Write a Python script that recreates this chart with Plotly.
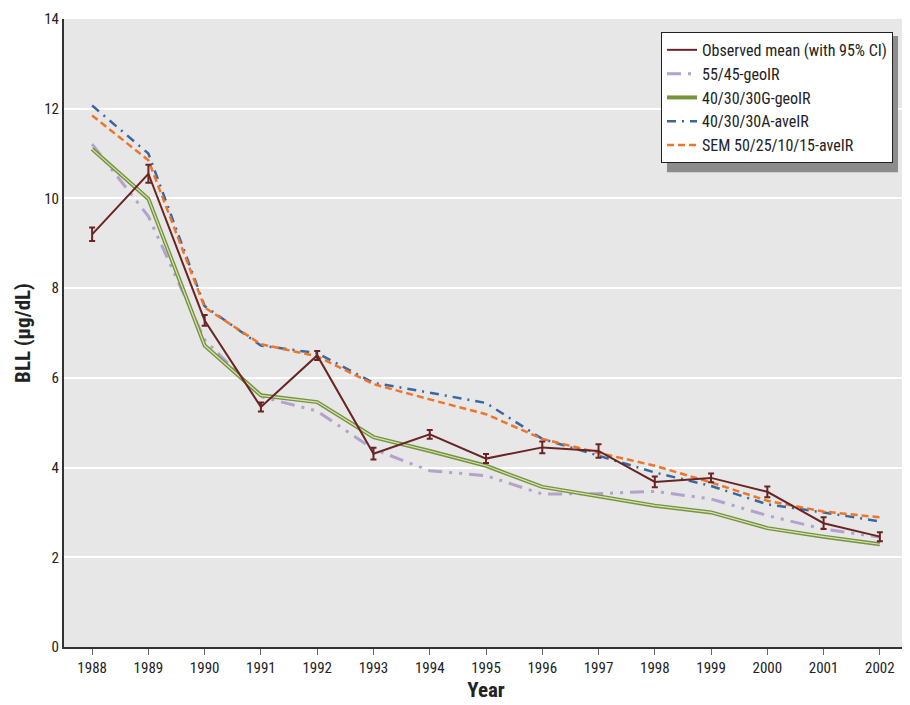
import plotly.graph_objects as go

years = list(range(1988, 2003))
observed = [9.2, 10.55, 7.28, 5.35, 6.5, 4.31, 4.74, 4.2, 4.45, 4.37, 3.68, 3.77, 3.46, 2.76, 2.46]
observed_ci = [0.15, 0.2, 0.12, 0.1, 0.1, 0.13, 0.1, 0.1, 0.13, 0.15, 0.12, 0.1, 0.12, 0.13, 0.1]
geo_55_45 = [11.21, 9.6, 6.85, 5.58, 5.26, 4.41, 3.93, 3.82, 3.41, 3.42, 3.47, 3.3, 2.93, 2.63, 2.45]
geo_40_30_30G = [11.1, 9.99, 6.72, 5.61, 5.46, 4.68, 4.37, 4.04, 3.57, 3.36, 3.15, 3.0, 2.65, 2.46, 2.29]
ave_40_30_30A = [12.07, 11.0, 7.6, 6.72, 6.55, 5.89, 5.67, 5.44, 4.64, 4.26, 3.89, 3.59, 3.18, 3.0, 2.8]
sem_50_25_10_15 = [11.85, 10.85, 7.57, 6.75, 6.48, 5.86, 5.52, 5.19, 4.64, 4.33, 4.04, 3.67, 3.26, 3.02, 2.89]

FONT = "Liberation Sans Narrow, Roboto Condensed, Arial Narrow, sans-serif"

fig = go.Figure()

fig.add_trace(go.Scatter(x=years, y=geo_55_45, mode="lines", name="55/45-geoIR",
                         line=dict(color="#b3a2cc", width=3, dash="14px,7px,3px,7px,3px,7px"),
                         legendrank=2))
fig.add_trace(go.Scatter(x=years, y=geo_40_30_30G, mode="lines", name="40/30/30G-geoIR",
                         line=dict(color="#77933c", width=4), legendrank=3))
fig.add_trace(go.Scatter(x=years, y=geo_40_30_30G, mode="lines", showlegend=False,
                         hoverinfo="skip", line=dict(color="#d6e3bc", width=1.2)))
fig.add_trace(go.Scatter(x=years, y=ave_40_30_30A, mode="lines", name="40/30/30A-aveIR",
                         line=dict(color="#3a67a0", width=2.5, dash="9px,6px,2px,6px"),
                         legendrank=4))
fig.add_trace(go.Scatter(x=years, y=sem_50_25_10_15, mode="lines", name="SEM 50/25/10/15-aveIR",
                         line=dict(color="#ef7527", width=2.5, dash="7px,4px"), legendrank=5))
fig.add_trace(go.Scatter(x=years, y=observed, mode="lines", name="Observed mean (with 95% CI)",
                         line=dict(color="#6a2424", width=2),
                         error_y=dict(type="data", array=observed_ci, visible=True,
                                      color="#6a2424", thickness=2, width=3),
                         legendrank=1))

# legend shadow (plot area is 844 x 631 px, left 64, bottom 647)
fig.add_shape(type="rect", xref="paper", yref="paper",
              x0=(667 - 64) / 844, x1=(898 - 64) / 844,
              y0=(647 - 170) / 631, y1=(647 - 33) / 631,
              fillcolor="#8c8c8c", line=dict(width=0), layer="above")

fig.update_layout(
    width=902, height=697,
    margin=dict(l=56, r=2, t=8, b=58),
    paper_bgcolor="white", plot_bgcolor="#e7e7e7",
    font=dict(family=FONT, size=15, color="#222"),
    showlegend=True,
    legend=dict(x=(661 - 64) / 844, y=(647 - 29) / 631, xanchor="left", yanchor="top",
                bgcolor="white", bordercolor="#222", borderwidth=1,
                font=dict(family=FONT, size=16, color="#222"),
                tracegroupgap=0, itemwidth=30),
    xaxis=dict(range=[1987.5, 2002.5], tickmode="array", tickvals=years,
               ticktext=[str(y) for y in years], showgrid=False, zeroline=False,
               showline=True, linecolor="#333", linewidth=2,
               ticks="outside", ticklen=6, tickcolor="#666", tickwidth=1,
               tickfont=dict(size=15),
               title=dict(text="<b>Year</b>", font=dict(size=21, family=FONT), standoff=6)),
    yaxis=dict(range=[0, 14], tickvals=[0, 2, 4, 6, 8, 10, 12, 14],
               showgrid=True, gridcolor="white", gridwidth=1.5, zeroline=False,
               showline=True, linecolor="#333", linewidth=2, ticks="",
               tickfont=dict(size=15), ticklabeloverflow="allow",
               title=dict(text="<b>BLL (µg/dL)</b>", font=dict(size=21, family=FONT), standoff=8)),
)

fig.write_html("out.html")
